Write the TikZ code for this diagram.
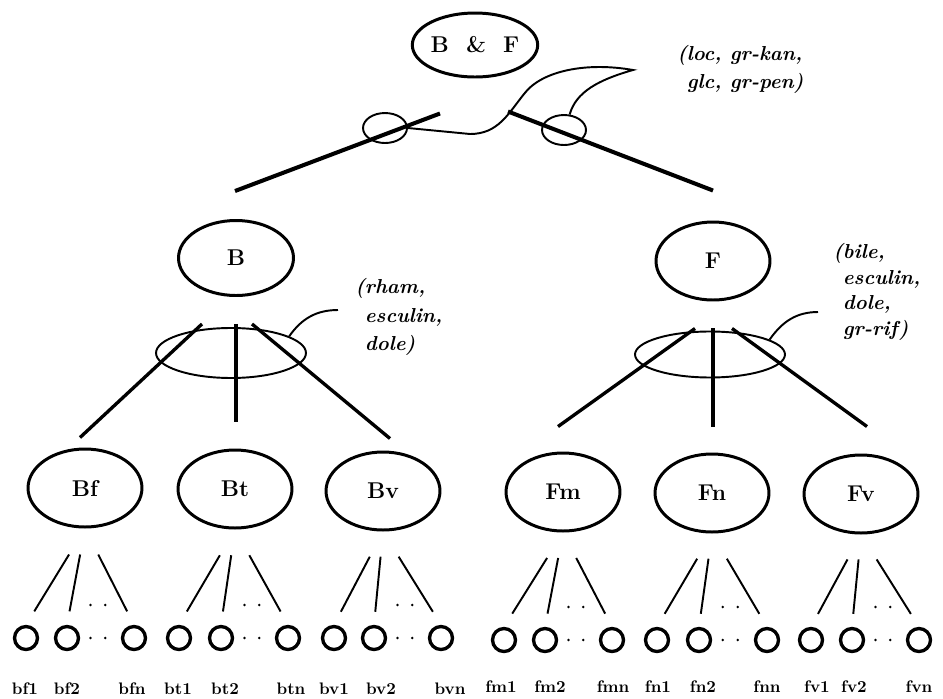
\documentclass[tikz,border=0pt]{standalone}
\usepackage{tikz}
\usetikzlibrary{shapes.geometric,calc}

\begin{document}
\begin{tikzpicture}[x=0.02cm,y=-0.02cm,
  cls/.style={draw,ellipse,line width=1.7pt,inner sep=0pt,minimum width=2.28cm,minimum height=1.56cm,font=\bfseries\fontsize{13}{15}\selectfont},
  leaf/.style={draw,circle,line width=1.9pt,inner sep=0pt,minimum size=0.46cm},
  leaftxt/.style={font=\bfseries\fontsize{9.5}{11}\selectfont},
  ring/.style={draw,ellipse,line width=1.1pt,inner sep=0pt},
  note/.style={font=\bfseries\itshape\fontsize{11.5}{16}\selectfont,align=left,inner sep=0pt},
  branch/.style={line width=2.3pt},
  limb/.style={line width=1.9pt},
  twig/.style={line width=1.1pt},
  leader/.style={line width=1.1pt}]
  \useasboundingbox (0,0) rectangle (943,698);
  % root and the two groups
  \node[cls,minimum width=2.2cm,minimum height=1.28cm] (BF) at (475,45) {B~~\&~~F};
  \node[cls,minimum width=2.3cm,minimum height=1.5cm] (B) at (236,258) {B};
  \node[cls] (F) at (713,261) {F};
  % species
  \node[cls] (Bf) at (85,488) {Bf};
  \node[cls] (Bt) at (235,489) {Bt};
  \node[cls] (Bv) at (383,491) {Bv};
  \node[cls] (Fm) at (563,492) {Fm};
  \node[cls] (Fn) at (712,493) {Fn};
  \node[cls] (Fv) at (861,494) {Fv};
  % strains
  \foreach \n/\x in {bf1/26,bf2/67,bfn/134,bt1/179,bt2/221,btn/288,bv1/334,bv2/374,bvn/441}
    \node[leaf] (\n) at (\x,638) {};
  \foreach \n/\x in {fm1/504,fm2/545,fmn/612,fn1/657,fn2/699,fnn/767,fv1/811,fv2/852,fvn/919}
    \node[leaf] (\n) at (\x,640) {};
  \foreach \n/\x in {bf1/25,bf2/67,bfn/132,bt1/178,bt2/225,btn/291,bv1/334,bv2/381,bvn/450}
    \node[leaftxt] (\n-name) at (\x,689) {\n};
  \foreach \n/\x in {fm1/501,fm2/550,fmn/613,fn1/658,fn2/703,fnn/767,fv1/817,fv2/854,fvn/919}
    \node[leaftxt] (\n-name) at (\x,687) {\n};

  % top split
  \draw[branch] ($(BF.south)+(-35,35)$) -- ($(B.north)+(-1,-28)$);
  \draw[branch] ($(BF.south)+(33,33)$) -- ($(F.north)+(0,-30)$);
  \node[ring,minimum width=0.88cm,minimum height=0.6cm] (lring) at (385,128) {};
  \node[ring,minimum width=0.88cm,minimum height=0.6cm] (rring) at (564,130) {};
  \node[note,anchor=west] (noteBF) at (677,69) {(loc, gr-kan,\\\hphantom{(}glc, gr-pen)};
  \coordinate (tip) at (633,70);
  \draw[leader] (lring.east) -- (470,134) .. controls (498,134) and (508,114) .. (524,94)
    .. controls (542,70) and (588,62) .. (tip) .. controls (598,80) and (576,92) .. (rring.70);

  % second split
  \draw[limb] ($(B.south)+(-34,27)$) -- ($(Bf.north)+(-5,-10)$);
  \draw[limb] ($(B.south)+(0,27)$) -- ($(Bt.north)+(1,-27)$);
  \draw[limb] ($(B.south)+(16,27)$) -- ($(Bv.north)+(7,-12)$);
  \draw[limb] ($(F.south)+(-18,27)$) -- ($(Fm.north)+(-5,-25)$);
  \draw[limb] ($(F.south)+(0,27)$) -- ($(Fn.north)+(1,-26)$);
  \draw[limb] ($(F.south)+(19,27)$) -- ($(Fv.north)+(6,-27)$);
  \node[ring,minimum width=3cm,minimum height=1cm] (ringB) at ($(B.south)+(-5,56)$) {};
  \node[ring,minimum width=3cm,minimum height=0.92cm] (ringF) at ($(F.south)+(-3,53)$) {};
  \node[note,anchor=west] (noteB) at (355,317) {(rham,\\\hphantom{(}esculin,\\\hphantom{(}dole)};
  \node[note,anchor=west,font=\bfseries\itshape\fontsize{11.5}{14.5}\selectfont] (noteF) at (833,292)
    {(bile,\\\hphantom{(}esculin,\\\hphantom{(}dole,\\\hphantom{(}gr-rif)};
  \draw[leader] (ringB.16) to[out=55,in=180] ($(noteB.west)+(-17,-7)$);
  \draw[leader] (ringF.14) to[out=55,in=180] ($(noteF.west)+(-15,20)$);

  % species to strains
  \foreach \c/\a/\b/\z in {Bf/bf1/bf2/bfn,Bt/bt1/bt2/btn,Bv/bv1/bv2/bvn,Fm/fm1/fm2/fmn,Fn/fn1/fn2/fnn,Fv/fv1/fv2/fvn} {
    \foreach \l in {\a,\b,\z}
      \draw[twig] ($(\c.south)!0.27!(\l.north)$) -- ($(\c.south)!0.86!(\l.north)$);
    \fill ($(\b)!0.35!(\z)$) circle[radius=0.8pt];
    \fill ($(\b)!0.57!(\z)$) circle[radius=0.8pt];
    \fill ($(\b)!0.35!(\z)+(0,-33)$) circle[radius=0.8pt];
    \fill ($(\b)!0.57!(\z)+(0,-33)$) circle[radius=0.8pt];
  }
\end{tikzpicture}
\end{document}
